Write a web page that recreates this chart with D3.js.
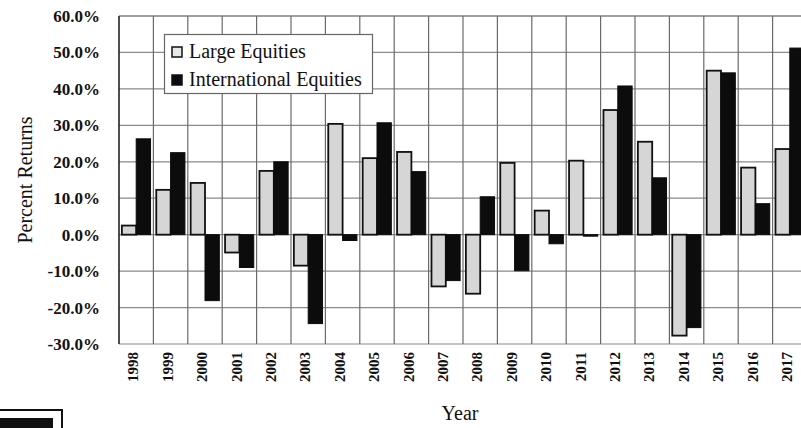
<!DOCTYPE html>
<html>
<head>
<meta charset="utf-8">
<script src="https://cdn.jsdelivr.net/npm/d3@7"></script>
<style>
  html, body { margin: 0; padding: 0; background: #fff; }
  svg { display: block; }
</style>
</head>
<body>
<svg id="chart" width="801" height="428"></svg>
<script>
const years = ["1998","1999","2000","2001","2002","2003","2004","2005","2006","2007",
               "2008","2009","2010","2011","2012","2013","2014","2015","2016","2017"];
const largeEquities = [2.5, 12.3, 14.2, -4.9, 17.5, -8.5, 30.4, 21.0, 22.7, -14.2,
                       -16.2, 19.7, 6.6, 20.3, 34.2, 25.5, -27.7, 45.0, 18.4, 23.5];
const intlEquities  = [26.3, 22.5, -18.1, -9.0, 20.0, -24.4, -1.6, 30.7, 17.3, -12.6,
                       10.4, -9.9, -2.5, -0.4, 40.8, 15.6, -25.5, 44.4, 8.5, 51.2];
const yTicks = [60, 50, 40, 30, 20, 10, 0, -10, -20, -30];
const seriesNames = ["Large Equities", "International Equities"];

(function () {
const svg = d3.select("#chart");
const serif = "'Liberation Serif', 'DejaVu Serif', serif";

const plotLeft = 119, plotTop = 16, plotBottom = 344, step = 34.4;
const x = d3.scaleBand().domain(years).range([plotLeft, plotLeft + step * years.length]).padding(0);
const y = d3.scaleLinear().domain([-30, 60]).range([plotBottom, plotTop]);
const sub = d3.scaleBand().domain(["large", "intl"]).range([0, x.bandwidth()])
  .paddingInner(0).paddingOuter(0.2);

// grid
const grid = svg.append("g");
grid.selectAll("line.h").data(yTicks).join("line")
  .attr("x1", plotLeft).attr("x2", 801)
  .attr("y1", d => y(d)).attr("y2", d => y(d))
  .attr("stroke", d => d === 60 ? "#444" : "#8a8a8a").attr("stroke-width", 1.2);
grid.selectAll("line.v").data(years.slice(1)).join("line")
  .attr("x1", d => x(d)).attr("x2", d => x(d))
  .attr("y1", plotTop).attr("y2", plotBottom)
  .attr("stroke", "#6a6a6a").attr("stroke-width", 1.2);

// left axis line
svg.append("line").attr("x1", plotLeft).attr("x2", plotLeft).attr("y1", plotTop).attr("y2", plotBottom)
  .attr("stroke", "#222").attr("stroke-width", 1.6);

// y tick labels
const yAxis = d3.axisLeft(y).tickValues(yTicks).tickSize(0).tickPadding(19)
  .tickFormat(d => d.toFixed(1) + "%");
const ya = svg.append("g").attr("transform", `translate(${plotLeft},0)`).call(yAxis);
ya.select(".domain").remove();
ya.selectAll("text").attr("font-family", serif).attr("font-size", 17)
  .attr("font-weight", "bold").attr("fill", "#111");

// x tick labels
const xAxis = d3.axisBottom(x).tickSize(0);
const xa = svg.append("g").attr("transform", `translate(0,${plotBottom})`).call(xAxis);
xa.select(".domain").remove();
xa.selectAll("text")
  .attr("font-family", serif).attr("font-size", 15).attr("font-weight", "bold").attr("fill", "#111")
  .attr("transform", "rotate(-90)")
  .attr("text-anchor", "end")
  .attr("x", -8).attr("y", -3).attr("dy", "0.35em");

// bars
const data = years.map((yr, i) => ({ yr, large: largeEquities[i], intl: intlEquities[i] }));
const g = svg.append("g");
g.selectAll("rect.large").data(data).join("rect")
  .attr("x", d => x(d.yr) + sub("large"))
  .attr("width", sub.bandwidth())
  .attr("y", d => y(Math.max(0, d.large)))
  .attr("height", d => Math.abs(y(d.large) - y(0)))
  .attr("fill", "#d6d6d6").attr("stroke", "#111").attr("stroke-width", 1.8);
g.selectAll("rect.intl").data(data).join("rect")
  .attr("x", d => x(d.yr) + sub("intl"))
  .attr("width", sub.bandwidth())
  .attr("y", d => y(Math.max(0, d.intl)))
  .attr("height", d => Math.max(1.5, Math.abs(y(d.intl) - y(0))))
  .attr("fill", "#0c0c0c").attr("stroke", "#0c0c0c").attr("stroke-width", 1);

// legend
const lg = svg.append("g");
lg.append("rect").attr("x", 164.5).attr("y", 34.5).attr("width", 208).attr("height", 59)
  .attr("fill", "#fff").attr("stroke", "#666").attr("stroke-width", 1.2);
seriesNames.forEach((name, i) => {
  const yy = 47 + i * 28;
  lg.append("rect").attr("x", 172).attr("y", yy).attr("width", 10).attr("height", 10)
    .attr("fill", i === 0 ? "#e8e8e8" : "#0c0c0c").attr("stroke", "#111").attr("stroke-width", 1.5);
  lg.append("text").attr("x", 189).attr("y", yy + 11)
    .attr("font-family", serif).attr("font-size", 20).attr("fill", "#111").text(name);
});

// axis titles
svg.append("text").attr("transform", "translate(32,180) rotate(-90)")
  .attr("text-anchor", "middle").attr("font-family", serif).attr("font-size", 20)
  .attr("fill", "#111").text("Percent Returns");
svg.append("text").attr("x", 460).attr("y", 420)
  .attr("text-anchor", "middle").attr("font-family", serif).attr("font-size", 20)
  .attr("fill", "#111").text("Year");

// scan artifact box at bottom-left
svg.append("path").attr("d", "M0,410 H62 V428").attr("fill", "none")
  .attr("stroke", "#111").attr("stroke-width", 2);
svg.append("rect").attr("x", 0).attr("y", 418).attr("width", 53).attr("height", 10).attr("fill", "#111");
})();
</script>
</body>
</html>
